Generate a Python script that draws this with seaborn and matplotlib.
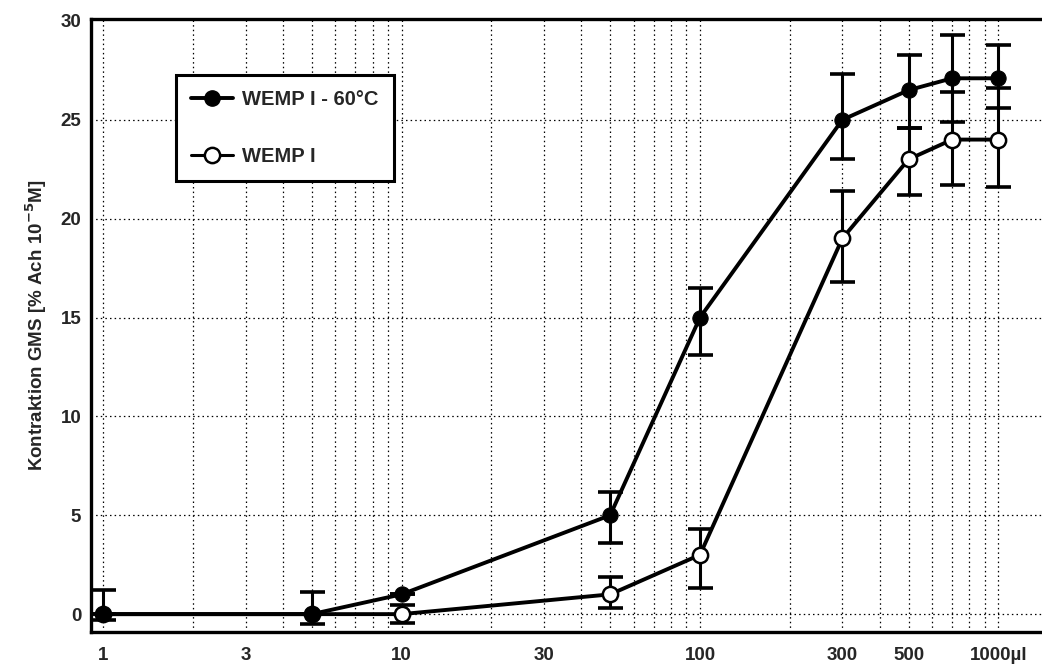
import numpy as np
import pandas as pd
import matplotlib
matplotlib.use("Agg")
import matplotlib.pyplot as plt
import seaborn as sns
from matplotlib.lines import Line2D
from matplotlib.ticker import FixedLocator, NullFormatter

# Dose (µl) and contraction responses
dose = [1, 5, 10, 50, 100, 300, 500, 700, 1000]

heated = [0, 0, 1, 5, 15, 25, 26.5, 27.1, 27.1]
heated_err_lo = [0.3, 0.5, 0.0, 1.4, 1.9, 2.0, 1.9, 2.2, 1.5]
heated_err_hi = [1.2, 1.1, 0.0, 1.2, 1.5, 2.3, 1.8, 2.2, 1.7]

native = [0, 0, 0, 1, 3, 19, 23, 24, 24]
native_err_lo = [0.0, 0.0, 0.45, 0.7, 1.7, 2.2, 1.8, 2.3, 2.4]
native_err_hi = [0.0, 0.0, 0.45, 0.9, 1.3, 2.4, 1.6, 2.4, 2.6]

series_names = ["WEMP I - 60°C", "WEMP I"]

xtick_pos = [1, 3, 10, 30, 100, 300, 500, 1000]
xtick_labels = ["1", "3", "10", "30", "100", "300", "500", "1000µl"]
ytick_pos = [0, 5, 10, 15, 20, 25, 30]

sns.set_style("white")
plt.rcParams["font.family"] = ["Liberation Sans", "DejaVu Sans"]
plt.rcParams["font.weight"] = "bold"

# open-circle series first so the filled one sits on top where they coincide
df = pd.DataFrame({
    "dose": dose * 2,
    "value": native + heated,
    "series": [series_names[1]] * len(dose) + [series_names[0]] * len(dose),
})

fig = plt.figure(figsize=(10.42, 6.68), dpi=100)
ax = fig.add_axes([0.0873, 0.054, 0.9127, 0.9176])

# dotted grid at every log step and every major y tick
minor = [m * 10 ** e for e in range(0, 3) for m in range(1, 10)] + [1000]
for xv in minor:
    ax.axvline(xv, color="black", lw=0.9, ls=(0, (1.2, 2.5)), zorder=0)
for yv in ytick_pos[:-1]:
    ax.axhline(yv, color="black", lw=0.9, ls=(0, (1.2, 2.5)), zorder=0)

ax.errorbar(dose, native, yerr=[native_err_lo, native_err_hi], fmt="none",
            ecolor="black", elinewidth=2.2, capsize=9, capthick=2.6, zorder=2)
ax.errorbar(dose, heated, yerr=[heated_err_lo, heated_err_hi], fmt="none",
            ecolor="black", elinewidth=2.2, capsize=9, capthick=2.6, zorder=2)

sns.lineplot(data=df, x="dose", y="value", hue="series",
             hue_order=[series_names[1], series_names[0]],
             palette=["black", "black"], marker="o", dashes=False,
             lw=2.8, markersize=11, ax=ax, legend=False, zorder=3)

# the two curves are the lines carrying circle markers (caps use "_")
curve_lines = [l for l in ax.get_lines() if l.get_marker() == "o"]
open_line, filled_line = curve_lines[0], curve_lines[1]
open_line.set_markerfacecolor("white")
open_line.set_markeredgecolor("black")
open_line.set_markeredgewidth(1.8)
filled_line.set_markerfacecolor("black")
filled_line.set_markeredgecolor("black")
filled_line.set_zorder(4)

ax.set_xscale("log")
ax.set_xlim(0.91, 1400)
ax.set_ylim(-0.9, 30.1)

ax.xaxis.set_major_locator(FixedLocator(xtick_pos))
ax.set_xticklabels(xtick_labels)
ax.xaxis.set_minor_locator(FixedLocator(minor))
ax.xaxis.set_minor_formatter(NullFormatter())
ax.set_yticks(ytick_pos)
ax.yaxis.set_minor_locator(FixedLocator(np.arange(0, 30, 1)))

ax.tick_params(axis="both", which="both", direction="in", length=3, width=1.2,
               labelsize=13.5)
ax.tick_params(axis="x", pad=11)
ax.tick_params(axis="y", pad=7)
for lab in ax.get_xticklabels() + ax.get_yticklabels():
    lab.set_fontweight("bold")

ax.set_xlabel("")
ax.set_ylabel("Kontraktion GMS [% Ach 10$^{-5}$M]", fontsize=13.5,
              fontweight="bold", labelpad=8)

for side in ["left", "bottom", "top"]:
    ax.spines[side].set_linewidth(2.4)
    ax.spines[side].set_color("black")
ax.spines["right"].set_visible(False)

handles = [
    Line2D([], [], color="black", lw=2.8, marker="o", markersize=11,
           markerfacecolor="black", markeredgecolor="black"),
    Line2D([], [], color="black", lw=2.2, marker="o", markersize=11,
           markerfacecolor="white", markeredgecolor="black", markeredgewidth=1.8),
]
leg = ax.legend(handles, series_names, loc="upper left",
                bbox_to_anchor=(0.089, 0.909), fancybox=False, framealpha=1,
                edgecolor="black", handlelength=2.1, labelspacing=1.9,
                borderpad=0.75, handletextpad=0.45, borderaxespad=0,
                prop={"weight": "bold", "size": 14.5})
leg.get_frame().set_linewidth(2.2)

fig.savefig("out.png", dpi=100)
